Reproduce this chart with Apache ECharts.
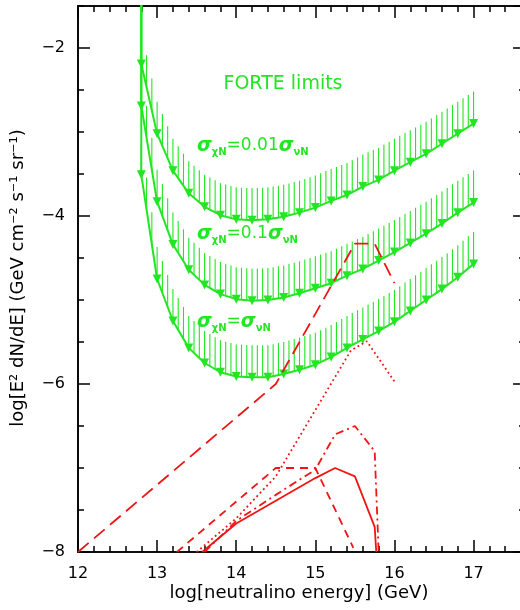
<!DOCTYPE html>
<html>
<head>
<meta charset="utf-8">
<script src="https://cdn.jsdelivr.net/npm/echarts@6/dist/echarts.min.js"></script>
<style>
html,body{margin:0;padding:0;background:#fff;}
#chart{width:520px;height:610px;}
</style>
</head>
<body>
<div id="chart"></div>
<script>
// ---- data (log10 values) ----
const energies = [12.8,13.0,13.2,13.4,13.6,13.8,14.0,14.2,14.4,14.6,14.8,15.0,15.2,15.4,15.6,15.8,16.0,16.2,16.4,16.6,16.8,17.0];
const limit001 = [-2.19,-3.02,-3.46,-3.73,-3.89,-3.99,-4.04,-4.05,-4.04,-4.01,-3.96,-3.90,-3.82,-3.75,-3.65,-3.57,-3.46,-3.36,-3.26,-3.14,-3.02,-2.90];
const limit01  = [-2.69,-3.83,-4.34,-4.64,-4.82,-4.93,-4.99,-5.01,-5.00,-4.97,-4.92,-4.86,-4.80,-4.71,-4.63,-4.53,-4.43,-4.32,-4.21,-4.09,-3.96,-3.84];
const limit1   = [-3.51,-4.75,-5.25,-5.57,-5.75,-5.86,-5.91,-5.92,-5.92,-5.88,-5.83,-5.77,-5.68,-5.57,-5.47,-5.37,-5.26,-5.13,-5.00,-4.87,-4.73,-4.57];
const limitTop = -1.0; // limits rise off the top of the plot at the first energy

const longDashX = [12.0,14.5,15.5,15.75,16.0];
const longDashY = [-8.0,-6.0,-4.33,-4.33,-4.80];
const dottedX   = [13.5,14.0,14.5,15.45,15.65,16.0];
const dottedY   = [-8.0,-7.6,-7.1,-5.6,-5.49,-5.97];
const solidX    = [13.57,14.0,14.5,15.0,15.25,15.5,15.75,15.77];
const solidY    = [-8.0,-7.66,-7.39,-7.12,-7.0,-7.1,-7.7,-8.0];
const dashedX   = [13.25,14.5,15.0,15.48];
const dashedY   = [-8.0,-7.0,-7.0,-7.95];
const dashDotX  = [13.6,14.0,14.5,15.0,15.25,15.5,15.75,15.8];
const dashDotY  = [-8.0,-7.63,-7.32,-7.02,-6.6,-6.5,-6.8,-8.0];

const xTicksMajor = [12,13,14,15,16,17];
const yTicksMajor = [-8,-6,-4,-2];

const labels = {
  forte: 'FORTE limits',
  yTitle: 'log[E² dN/dE] (GeV cm⁻² s⁻¹ sr⁻¹)',
  xTitle: 'log[neutralino energy] (GeV)'
};

// ---- styling ----
const GREEN = '#22e622';
const RED = '#f01414';
const FONT = 'DejaVu Sans';
const HATCH = 32;

function pairs(xs, ys){ return xs.map((x,i)=>[x, ys[i]]); }

function limitSeries(ys){
  const data = [{value:[energies[0], limitTop], symbol:'none'}].concat(pairs(energies, ys));
  return {
    type:'line', data, xAxisIndex:0, yAxisIndex:0,
    symbol:'triangle', symbolRotate:180, symbolSize:9, showSymbol:true,
    itemStyle:{color:GREEN}, lineStyle:{color:GREEN, width:2},
    clip:true, z:3
  };
}
function hatchSeries(ys){
  const segs = [];
  for (let i=0;i<energies.length-1;i++) segs.push([energies[i], ys[i], energies[i+1], ys[i+1], 0]);
  const n = energies.length-1;
  segs.push([energies[n], ys[n], energies[n], ys[n], 1]);
  return {
    type:'custom', data:segs, xAxisIndex:0, yAxisIndex:0, clip:true, silent:true, z:2,
    encode:{x:[0,2], y:[1,3]},
    renderItem:function(params, api){
      const p1 = api.coord([api.value(0), api.value(1)]);
      const p2 = api.coord([api.value(2), api.value(3)]);
      const last = api.value(4) === 1;
      const children = [];
      const cnt = last ? 1 : 3;
      for (let k=0;k<cnt;k++){
        const t = k/3;
        const x = p1[0] + t*(p2[0]-p1[0]);
        const y = p1[1] + t*(p2[1]-p1[1]);
        children.push({type:'line', shape:{x1:x, y1:y, x2:x, y2:y-HATCH}, style:{stroke:GREEN, lineWidth:1.1}});
      }
      return {type:'group', children};
    }
  };
}
function redSeries(xs, ys, dash){
  return {
    type:'line', data:pairs(xs, ys), xAxisIndex:0, yAxisIndex:0, symbol:'none',
    lineStyle:{color:RED, width:1.8, type:dash}, clip:true, z:4
  };
}

const axisLineStyle = {color:'#000', width:1.6};
function xAxisDef(pos, interval, len, labelled){
  return {
    type:'value', position:pos, min:12, max:17.65, interval:interval,
    axisLine:{show:true, onZero:false, lineStyle:axisLineStyle},
    axisTick:{show:true, inside:true, length:len, lineStyle:{color:'#000', width:1.5}},
    axisLabel:{show:labelled, margin:14, fontSize:16, fontFamily:FONT, color:'#000',
      showMaxLabel:false,
      formatter:function(v){ return xTicksMajor.indexOf(v)>=0 ? String(v) : ''; }},
    splitLine:{show:false}
  };
}
function yAxisDef(pos, interval, len, labelled){
  return {
    type:'value', position:pos, min:-8, max:-1.5, interval:interval,
    axisLine:{show:true, onZero:false, lineStyle:axisLineStyle},
    axisTick:{show:true, inside:true, length:len, lineStyle:{color:'#000', width:1.5}},
    axisLabel:{show:labelled, margin:13, fontSize:16, fontFamily:FONT, color:'#000',
      showMaxLabel:false,
      formatter:function(v){ return yTicksMajor.indexOf(v)>=0 ? ('−' + Math.abs(v)) : ''; }},
    splitLine:{show:false}
  };
}

const sigmaRich = {
  s:{fontSize:19, fontStyle:'italic', fontFamily:FONT, fill:GREEN, fontWeight:'bold'},
  sub:{fontSize:10, fontFamily:FONT, fill:GREEN, fontWeight:'bold', padding:[13,0,0,0]},
  t:{fontSize:17, fontFamily:FONT, fill:GREEN}
};
function sigmaLabel(x, y, text){
  return {type:'text', x:x, y:y, z:10, style:{text:text, rich:sigmaRich, fill:GREEN, verticalAlign:'middle', align:'left'}};
}

const chart = echarts.init(document.getElementById('chart'), null, {renderer:'canvas'});
chart.setOption({
  animation:false,
  backgroundColor:'#fff',
  grid:{left:78, top:6, width:447, height:546, containLabel:false, outerBoundsMode:'none'},
  xAxis:[
    xAxisDef('bottom', 1, 12, true),
    xAxisDef('bottom', 0.2, 6, false),
    xAxisDef('top', 1, 12, false),
    xAxisDef('top', 0.2, 6, false)
  ],
  yAxis:[
    yAxisDef('left', 2, 12, true),
    yAxisDef('left', 0.5, 6, false),
    yAxisDef('right', 2, 12, false),
    yAxisDef('right', 0.5, 6, false)
  ],
  series:[
    hatchSeries(limit001), hatchSeries(limit01), hatchSeries(limit1),
    limitSeries(limit001), limitSeries(limit01), limitSeries(limit1),
    redSeries(longDashX, longDashY, [14,7]),
    redSeries(dottedX, dottedY, [1.8,3]),
    redSeries(solidX, solidY, 'solid'),
    redSeries(dashedX, dashedY, [8,6]),
    redSeries(dashDotX, dashDotY, [8,4,2,4])
  ],
  graphic:[
    {type:'text', x:283, y:84, style:{text:labels.forte, fill:GREEN, font:'19px "DejaVu Sans"', align:'center', verticalAlign:'middle'}},
    sigmaLabel(197, 146, '{s|σ}{sub|χN}{t|=0.01}{s|σ}{sub|νN}'),
    sigmaLabel(197, 234, '{s|σ}{sub|χN}{t|=0.1}{s|σ}{sub|νN}'),
    sigmaLabel(197, 322, '{s|σ}{sub|χN}{t|=}{s|σ}{sub|νN}'),
    {type:'text', x:18, y:278, rotation:Math.PI/2, style:{text:labels.yTitle, fill:'#000', font:'18px "DejaVu Sans"', align:'center', verticalAlign:'middle'}},
    {type:'text', x:299, y:593, style:{text:labels.xTitle, fill:'#000', font:'18px "DejaVu Sans"', align:'center', verticalAlign:'middle'}}
  ]
});
</script>
</body>
</html>
